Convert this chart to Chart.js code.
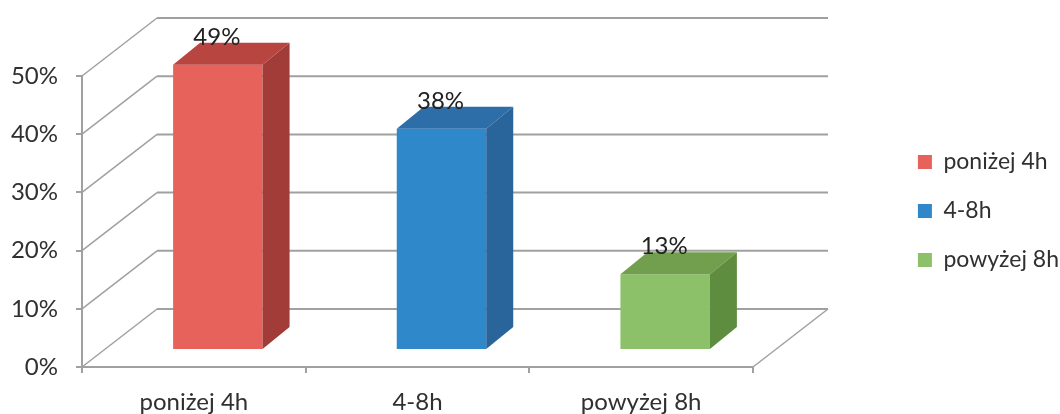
<!DOCTYPE html>
<html>
<head>
<meta charset="utf-8">
<script src="https://cdn.jsdelivr.net/npm/chart.js@4.4.0/dist/chart.umd.min.js"></script>
<style>
  html, body { margin: 0; padding: 0; background: #ffffff; }
  #wrap { width: 1060px; height: 414px; }
</style>
</head>
<body>
<div id="wrap"><canvas id="c" width="1060" height="414"></canvas></div>
<script>
// ---- data ----
const categories = ['poniżej 4h', '4-8h', 'powyżej 8h'];
const values = [49, 38, 13];
const yTickStep = 10;
const yMin = 0;
const yMax = 50;
const frontColors = ['#E8625C', '#2E88C9', '#8CC169'];
const topColors = ['#B94541', '#2D6EA8', '#719F4E'];
const sideColors = ['#A23C39', '#29649A', '#5F8D3F'];

// ---- style constants ----
const FONT = 'Lato';
const LINE = '#a0a0a0';
const TEXT = '#303030';
const WALL = { dx: 75, dy: -58 };     // depth of the 3D box
const BAR_OFF = { dx: 24, dy: -17 };  // bar front plane offset
const BAR_DEPTH = { dx: 27, dy: -22 };
const PLOT_RIGHT = 753;
const PAD_RIGHT = -9;

const box3d = {
  id: 'box3d',
  beforeDatasetsDraw(chart) {
    const { ctx, chartArea: a, scales: { y } } = chart;
    ctx.save();
    ctx.strokeStyle = LINE;
    ctx.lineCap = 'butt';
    y.ticks.forEach(t => {
      const py = y.getPixelForValue(t.value);
      ctx.lineWidth = 1.5;
      ctx.beginPath();
      ctx.moveTo(a.left, py);
      ctx.lineTo(a.left + WALL.dx, py + WALL.dy);
      ctx.stroke();
      ctx.lineWidth = 2;
      ctx.beginPath();
      ctx.moveTo(a.left + WALL.dx, py + WALL.dy);
      ctx.lineTo(a.right + WALL.dx, py + WALL.dy);
      ctx.stroke();
    });
    ctx.lineWidth = 1.5;
    ctx.beginPath();
    ctx.moveTo(a.right, a.bottom);
    ctx.lineTo(a.right + WALL.dx, a.bottom + WALL.dy);
    ctx.stroke();
    ctx.restore();
    ctx.save();
    ctx.translate(BAR_OFF.dx, BAR_OFF.dy);
  },
  afterDatasetsDraw(chart) {
    const { ctx } = chart;
    ctx.restore();
    const meta = chart.getDatasetMeta(0);
    meta.data.forEach((el, i) => {
      const p = el.getProps(['x', 'y', 'base', 'width'], true);
      const l = p.x - p.width / 2 + BAR_OFF.dx;
      const r = p.x + p.width / 2 + BAR_OFF.dx;
      const t = p.y + BAR_OFF.dy;
      const b = p.base + BAR_OFF.dy;
      // top face
      ctx.fillStyle = topColors[i];
      ctx.beginPath();
      ctx.moveTo(l, t);
      ctx.lineTo(l + BAR_DEPTH.dx, t + BAR_DEPTH.dy);
      ctx.lineTo(r + BAR_DEPTH.dx, t + BAR_DEPTH.dy);
      ctx.lineTo(r, t);
      ctx.closePath();
      ctx.fill();
      // side face
      ctx.fillStyle = sideColors[i];
      ctx.beginPath();
      ctx.moveTo(r, t);
      ctx.lineTo(r + BAR_DEPTH.dx, t + BAR_DEPTH.dy);
      ctx.lineTo(r + BAR_DEPTH.dx, b + BAR_DEPTH.dy);
      ctx.lineTo(r, b);
      ctx.closePath();
      ctx.fill();
      // value label
      ctx.fillStyle = '#222222';
      ctx.font = '24px ' + FONT;
      ctx.textAlign = 'center';
      ctx.textBaseline = 'middle';
      ctx.fillText(values[i] + '%', p.x + BAR_OFF.dx - 1, t - 28);
    });
  }
};

new Chart(document.getElementById('c'), {
  type: 'bar',
  data: {
    labels: categories,
    datasets: [{
      label: 'Czas',
      data: values,
      backgroundColor: frontColors,
      borderWidth: 0,
      barPercentage: 0.40,
      categoryPercentage: 1.0,
      clip: false
    }]
  },
  options: {
    responsive: false,
    devicePixelRatio: 1,
    animation: false,
    layout: { padding: { top: 8, right: PAD_RIGHT, left: 0, bottom: 0 } },
    plugins: {
      tooltip: { enabled: false },
      legend: {
        position: 'right',
        labels: {
          font: { family: FONT, size: 23 },
          color: TEXT,
          boxWidth: 14,
          boxHeight: 14,
          padding: 26,
          generateLabels: () => categories.map((c, i) => ({
            text: c,
            fillStyle: frontColors[i],
            strokeStyle: frontColors[i],
            lineWidth: 0,
            hidden: false,
            index: i,
            datasetIndex: 0,
            fontColor: TEXT
          }))
        }
      }
    },
    scales: {
      x: {
        type: 'category',
        position: 'bottom',
        afterFit: s => { s.height = 47; },
        grid: { drawOnChartArea: false, drawTicks: true, tickLength: 6, color: LINE, lineWidth: 2, offset: true },
        border: { display: true, color: LINE, width: 2 },
        ticks: { font: { family: FONT, size: 24 }, color: TEXT, padding: 15, maxRotation: 0 }
      },
      x2: {
        type: 'linear',
        axis: 'x',
        position: 'top',
        afterFit: s => { s.height = 68; },
        grid: { display: false, drawTicks: false },
        border: { display: false },
        ticks: { display: false }
      },
      y: {
        type: 'linear',
        position: 'left',
        min: yMin,
        max: yMax,
        afterFit: s => { s.width = 82; },
        grid: { drawOnChartArea: false, drawTicks: true, tickLength: 6, color: LINE, lineWidth: 2 },
        border: { display: true, color: LINE, width: 2 },
        ticks: { stepSize: yTickStep, font: { family: FONT, size: 24 }, color: TEXT, padding: 18,
                 callback: v => v + '%' }
      },
      y2: {
        type: 'linear',
        axis: 'y',
        position: 'right',
        afterFit: s => { s.width = Math.max(0, s.chart.width - PAD_RIGHT - (s.chart.legend ? s.chart.legend.width : 0) - PLOT_RIGHT); },
        grid: { display: false, drawTicks: false },
        border: { display: false },
        ticks: { display: false }
      }
    }
  },
  plugins: [box3d]
});
</script>
</body>
</html>
